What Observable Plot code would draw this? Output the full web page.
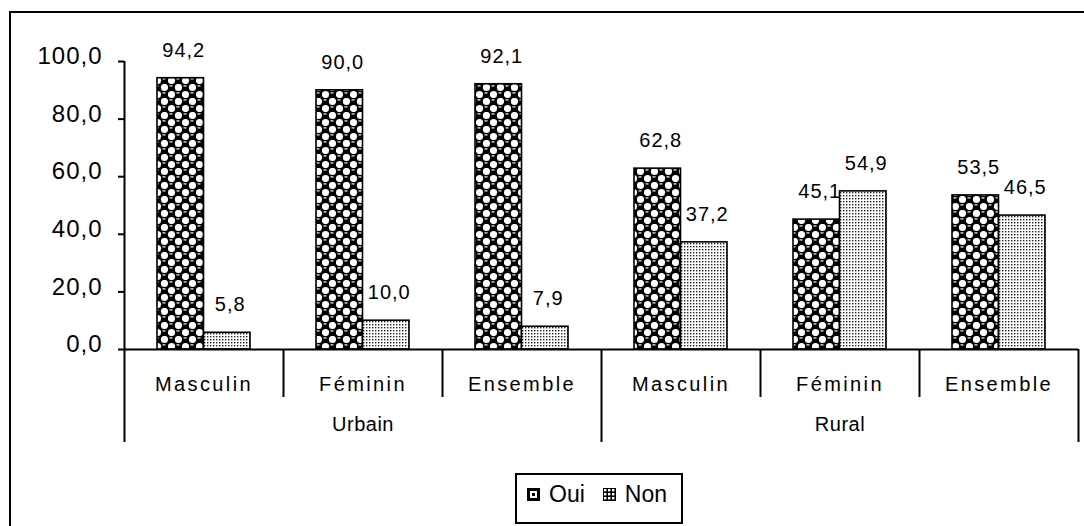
<!DOCTYPE html>
<html>
<head>
<meta charset="utf-8">
<script src="https://cdn.jsdelivr.net/npm/d3@7"></script>
<script src="https://cdn.jsdelivr.net/npm/@observablehq/plot@0.6"></script>
<style>
  html, body { margin: 0; padding: 0; background: #fff; }
  body { width: 1084px; height: 526px; position: relative; overflow: hidden; font-family: "Liberation Sans", Arial, sans-serif; }
  #outer { position: absolute; left: 9px; top: 11px; width: 1200px; height: 700px; border-left: 2px solid #000; border-top: 2px solid #000; pointer-events: none; }
  #chart { position: absolute; left: 0; top: 0; }
  #legend { position: absolute; left: 515px; top: 473px; width: 154px; height: 47px; border: 2px solid #000; background: #fff;
            display: flex; align-items: center; padding-left: 10px; box-sizing: content-box; font-size: 23px; color: #000; }
  #legend .item { display: flex; align-items: center; margin-right: 18px; position: relative; top: -4px; }
  #legend svg { margin-right: 9px; }
</style>
</head>
<body>
<div id="chart"></div>
<div id="outer"></div>
<div id="legend"></div>
<script>
// ---- data ----
const groups = ["Urbain", "Urbain", "Urbain", "Rural", "Rural", "Rural"];
const sexes = ["Masculin", "Féminin", "Ensemble", "Masculin", "Féminin", "Ensemble"];
const oui = [94.2, 90.0, 92.1, 62.8, 45.1, 53.5];
const non = [5.8, 10.0, 7.9, 37.2, 54.9, 46.5];
const series = ["Oui", "Non"];
const yTicks = [0, 20, 40, 60, 80, 100];
const groupNames = ["Urbain", "Rural"];

// ---- derived table ----
const cats = sexes.map((s, i) => groups[i] + "|" + s);
const rowsOui = cats.map((c, i) => ({cat: c, serie: series[0], value: oui[i]}));
const rowsNon = cats.map((c, i) => ({cat: c, serie: series[1], value: non[i]}));
const fmt = v => v.toFixed(1).replace(".", ",");

// ---- layout ----
const W = 1084, H = 470, mL = 124, mR = 6, mT = 61, mB = 121;
const bw = (W - mL - mR) / cats.length;
const barW = 46.5;
const gap = (bw - 2 * barW) / 2;
const font = "'Liberation Sans', Arial, sans-serif";

// divider definitions (left edges of every category + right edge of last)
const leftEdges = cats.map((c, i) => ({cat: c, long: i % 3 === 0, first: i === 0}));
const rightEdge = [{cat: cats[cats.length - 1], long: true}];

const chart = Plot.plot({
  width: W, height: H,
  marginLeft: mL, marginRight: mR, marginTop: mT, marginBottom: mB,
  style: {fontFamily: font, background: "transparent", color: "#000", overflow: "visible"},
  x: {domain: cats, padding: 0, axis: null},
  y: {domain: [0, 100], axis: null},
  marks: [
    // bars
    Plot.barY(rowsOui, {x: "cat", y: "value", fill: "url(#pOui)", stroke: "#000", strokeWidth: 1.6,
      insetLeft: gap, insetRight: gap + barW}),
    Plot.barY(rowsNon, {x: "cat", y: "value", fill: "url(#pNon)", stroke: "#000", strokeWidth: 1.6,
      insetLeft: gap + barW, insetRight: gap}),
    // x axis baseline
    Plot.ruleY([0], {stroke: "#000", strokeWidth: 2}),
    // y axis ticks
    Plot.axisY(yTicks, {tickSize: 6, tickFormat: () => "", label: null, stroke: "#000", strokeWidth: 2}),
    Plot.text(yTicks, {y: d => d, text: d => fmt(d), frameAnchor: "left", textAnchor: "end",
      dx: -22, dy: -5, fontSize: 24, fill: "#000"}),
    // y axis line (first left edge) and dividers
    Plot.ruleX(leftEdges.filter(d => d.first), {x: "cat", y1: () => 100, y2: () => 0, dx: -bw / 2,
      insetBottom: -93, stroke: "#000", strokeWidth: 2}),
    Plot.ruleX(leftEdges.filter(d => !d.first && d.long), {x: "cat", y1: () => 0, y2: () => 0, dx: -bw / 2,
      insetBottom: -93, stroke: "#000", strokeWidth: 2}),
    Plot.ruleX(leftEdges.filter(d => !d.long), {x: "cat", y1: () => 0, y2: () => 0, dx: -bw / 2,
      insetBottom: -48, stroke: "#000", strokeWidth: 2}),
    Plot.ruleX(rightEdge, {x: "cat", y1: () => 0, y2: () => 0, dx: bw / 2,
      insetBottom: -93, stroke: "#000", strokeWidth: 2}),
    // category labels
    Plot.text(cats, {x: d => d, text: (d, i) => sexes[i], frameAnchor: "bottom", dy: 41,
      fontSize: 20, fill: "#000"}),
    // group labels (centered on the middle category of each group)
    Plot.text(groupNames, {x: g => cats[groups.indexOf(g) + 1], text: d => d, frameAnchor: "bottom", dy: 81,
      fontSize: 20, fill: "#000"}),
    // value labels
    Plot.text(rowsOui, {x: "cat", y: "value", text: d => fmt(d.value), dx: -barW / 2 + 3, dy: -28,
      fontSize: 20, fill: "#000"}),
    Plot.text(rowsNon, {x: "cat", y: "value", text: d => fmt(d.value), dx: barW / 2 + 3, dy: -28,
      fontSize: 20, fill: "#000"})
  ]
});

// letter spacing similar to the spread-out Excel text rendering
const svgSel = d3.select(chart);
svgSel.selectAll("text").each(function () {
  const t = this.textContent;
  let ls = "1px";
  if (sexes.includes(t)) ls = "2.4px";
  else if (groupNames.includes(t)) ls = "0.5px";
  d3.select(this).attr("letter-spacing", ls);
});

// patterns
const defs = svgSel.insert("defs", ":first-child");
const pO = defs.append("pattern").attr("id", "pOui").attr("patternUnits", "userSpaceOnUse")
  .attr("width", 14).attr("height", 14);
pO.append("rect").attr("width", 14).attr("height", 14).attr("fill", "#000");
[[10.5, 3.5], [3.5, 10.5]].forEach(([cx, cy]) =>
  pO.append("circle").attr("cx", cx).attr("cy", cy).attr("r", 3.6).attr("fill", "#fff"));
[[3.5, 3.5], [10.5, 10.5]].forEach(([cx, cy]) =>
  pO.append("rect").attr("x", cx - 2).attr("y", cy - 2.2).attr("width", 3).attr("height", 1.2).attr("fill", "#fff"));
const pN = defs.append("pattern").attr("id", "pNon").attr("patternUnits", "userSpaceOnUse")
  .attr("width", 3).attr("height", 3);
pN.append("rect").attr("width", 3).attr("height", 3).attr("fill", "#fff");
pN.append("rect").attr("width", 1.4).attr("height", 1.4).attr("fill", "#222");

document.getElementById("chart").appendChild(chart);

// legend
const legend = d3.select("#legend");
series.forEach(s => {
  const item = legend.append("div").attr("class", "item");
  const sw = item.append("svg").attr("width", 13).attr("height", 13);
  if (s === "Oui") {
    sw.append("rect").attr("width", 13).attr("height", 13).attr("fill", "#000");
    sw.append("rect").attr("x", 3).attr("y", 3).attr("width", 7).attr("height", 7).attr("fill", "#fff");
    sw.append("rect").attr("x", 5).attr("y", 5).attr("width", 3).attr("height", 3).attr("fill", "#000");
  } else {
    sw.append("rect").attr("width", 13).attr("height", 13).attr("fill", "#000");
    [2, 6, 10].forEach(x => [2, 6, 10].forEach(y =>
      sw.append("rect").attr("x", x - 1).attr("y", y - 1).attr("width", 2.4).attr("height", 2.4).attr("fill", "#fff")));
  }
  item.append("span").text(s);
});
</script>
</body>
</html>
